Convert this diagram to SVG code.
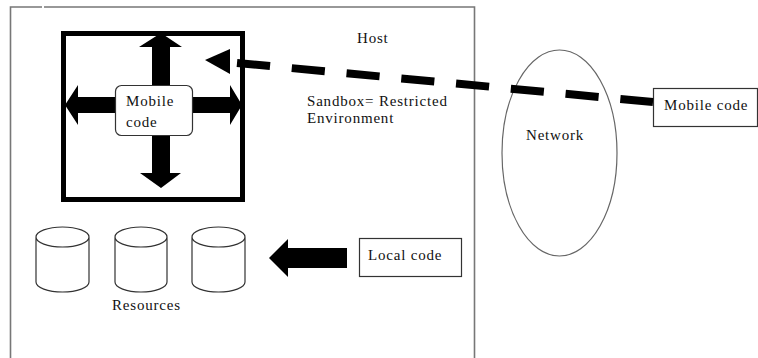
<svg xmlns="http://www.w3.org/2000/svg" width="758" height="358" viewBox="0 0 758 358">
  <style>
    text { font-family: "Liberation Serif", "Times New Roman", serif; font-size: 15px; letter-spacing: 0.8px; fill: #111; }
    .thin { fill: #fff; stroke: #333; stroke-width: 1.2; }
    .frame { fill: none; stroke: #777; stroke-width: 1.6; }
    .solid { fill: #000; stroke: none; }
  </style>
  <rect width="758" height="358" fill="#fff"/>

  <!-- Host machine frame (open at the bottom, small notch in the top edge) -->
  <g id="host">
    <path class="frame" d="M44 7 H474.5 V358 M42 7 H10.5 V358"/>
    <text x="357" y="43">Host</text>
    <text x="307" y="106">Sandbox= Restricted</text>
    <text x="307" y="123">Environment</text>
  </g>

  <!-- Sandbox: thick square with four-way arrows -->
  <g id="sandbox">
    <rect x="63.5" y="33.5" width="179" height="166" fill="none" stroke="#000" stroke-width="5"/>
    <path class="solid" d="M161 33 L182 47 L170 47 L170 173 L181 173 L161 188 L140 173 L152 173 L152 47 L139 47 Z"/>
    <path class="solid" d="M65 105 L78 85 L78 97 L230 97 L230 85 L242 105 L230 125 L230 113 L78 113 L78 125 Z"/>
  </g>

  <g id="mobile-code-inner">
    <rect class="thin" x="115.5" y="85.5" width="77" height="50" rx="6"/>
    <text x="126" y="106">Mobile</text>
    <text x="126" y="127">code</text>
  </g>

  <g id="network">
    <ellipse cx="559.5" cy="153" rx="57.5" ry="103" fill="none" stroke="#666" stroke-width="1.2"/>
    <text x="526" y="140">Network</text>
  </g>

  <g id="mobile-code-remote">
    <rect class="thin" x="653.5" y="88.5" width="104" height="38"/>
    <text x="664" y="110">Mobile code</text>
  </g>

  <g id="resources">
    <g class="thin">
      <path d="M36 237 V282 A26.5 10 0 0 0 89 282 V237 A26.5 10 0 0 0 36 237 Z M36 237 A26.5 10 0 0 0 89 237"/>
      <path d="M115 237 V282 A26 10 0 0 0 167 282 V237 A26 10 0 0 0 115 237 Z M115 237 A26 10 0 0 0 167 237"/>
      <path d="M192 237 V282 A26.5 10 0 0 0 245 282 V237 A26.5 10 0 0 0 192 237 Z M192 237 A26.5 10 0 0 0 245 237"/>
    </g>
    <text x="112" y="310">Resources</text>
  </g>

  <g id="local-code">
    <rect class="thin" x="359.5" y="238.5" width="102" height="38"/>
    <text x="368" y="260">Local code</text>
  </g>

  <!-- Connectors -->
  <g id="connectors">
    <line x1="237" y1="63" x2="653" y2="102" stroke="#000" stroke-width="8" stroke-dasharray="33.2 21.8"/>
    <polygon class="solid" points="205,60 230,49 230,74"/>
    <path class="solid" d="M269 258 L288 239 L288 248 L347 248 L347 268 L288 268 L288 277 Z"/>
  </g>
</svg>
